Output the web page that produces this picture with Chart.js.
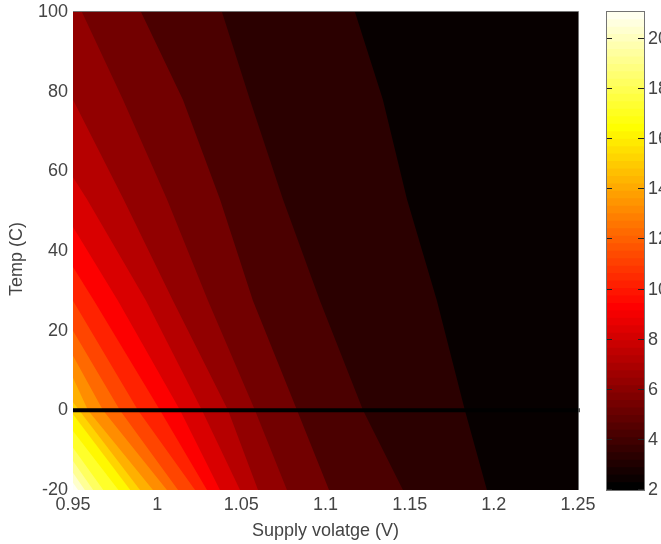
<!DOCTYPE html>
<html>
<head>
<meta charset="utf-8">
<title>Supply voltage vs temperature</title>
<script src="https://cdn.jsdelivr.net/npm/chart.js@4"></script>
<style>
  html, body { margin: 0; background: #fff; overflow: hidden; }
  #wrap { position: relative; width: 661px; height: 544px; }
  canvas { position: absolute; top: 0; }
</style>
</head>
<body>
<div id="wrap">
  <canvas id="plot" width="661" height="544" style="left:0"></canvas>
  <canvas id="bar" width="101" height="544" style="left:560px"></canvas>
</div>
<script>
const voltageTicks = [0.95, 1, 1.05, 1.1, 1.15, 1.2, 1.25];
const tempTicks = [-20, 0, 20, 40, 60, 80, 100];
const barTicks = [2, 4, 6, 8, 10, 12, 14, 16, 18, 20];

// value painted above each contour, lowest first (first one is the background)
const contourLevels = [2.2, 3.2, 4.1, 5.2, 6.1, 7.1, 8.1, 9.1, 10.1, 11.1, 12.1, 13.1, 14.1, 15.1, 16.1, 17.1, 18.1, 19.1, 20.1, 20.9];

// contours as [volts, temp], top to bottom
const contour1 = [[1.1175, 100], [1.1341, 78], [1.1484, 53], [1.1662, 27.5], [1.1828, 0], [1.1959, -20]];
const contour2 = [[1.0385, 100], [1.0551, 78], [1.0747, 53], [1.0967, 27.5], [1.1223, 0], [1.146, -20]];
const contour3 = [[0.9904, 100], [1.0153, 78], [1.0373, 53], [1.0569, 27.5], [1.0831, 0], [1.1021, -20]];
const contour4 = [[0.9553, 100], [0.9797, 78], [1.0058, 53], [1.0302, 27.5], [1.0581, 0], [1.0771, -20]];
const contour5 = [[0.95, 78], [0.98, 53], [1.0094, 27.5], [1.0421, 0], [1.0599, -20]];
const contour6 = [[0.95, 58.5], [0.9583, 53], [0.9934, 27.5], [1.0266, 0], [1.0492, -20]];
const contour7 = [[0.95, 46], [0.9767, 27.5], [1.0136, 0], [1.0373, -20]];
const contour8 = [[0.95, 36], [0.9625, 27.5], [1.0017, 0], [1.0296, -20]];
const contour9 = [[0.95, 27.5], [0.9886, 0], [1.0225, -20]];
const contour10 = [[0.95, 20], [0.9779, 0], [1.0124, -20]];
const contour11 = [[0.95, 13.7], [0.9678, 0], [1.0058, -20]];
const contour12 = [[0.95, 8.2], [0.9589, 0], [0.9975, -20]];
const contour13 = [[0.95, 2], [0.9898, -20]];
const contour14 = [[0.95, -1], [0.984, -20]];
const contour15 = [[0.95, -5.2], [0.977, -20]];
const contour16 = [[0.95, -9.4], [0.968, -20]];
const contour17 = [[0.95, -12.7], [0.962, -20]];
const contour18 = [[0.95, -15.7], [0.957, -20]];
const contour19 = [[0.95, -18.2], [0.953, -20]];
const contours = [contour1, contour2, contour3, contour4, contour5, contour6, contour7, contour8, contour9, contour10,
  contour11, contour12, contour13, contour14, contour15, contour16, contour17, contour18, contour19];

// the black line at 0 C
const lineVolts = [0.95, 1.251];
const lineTemps = [0, 0];

// upper edges of the 64 colorbar stripes
const barEdges = [2.3, 2.6, 2.89, 3.19, 3.49, 3.79, 4.09, 4.39, 4.68, 4.98, 5.28, 5.58, 5.88, 6.17, 6.47, 6.77,
  7.07, 7.37, 7.66, 7.96, 8.26, 8.56, 8.86, 9.16, 9.45, 9.75, 10.05, 10.35, 10.65, 10.94, 11.24, 11.54,
  11.84, 12.14, 12.43, 12.73, 13.03, 13.33, 13.63, 13.93, 14.22, 14.52, 14.82, 15.12, 15.42, 15.71, 16.01, 16.31,
  16.61, 16.91, 17.2, 17.5, 17.8, 18.1, 18.4, 18.7, 18.99, 19.29, 19.59, 19.89, 20.19, 20.48, 20.78, 21.08];

const FONT = { family: '"Liberation Sans", Arial, sans-serif', size: 18 };
const TEXT = '#444444';
const EDGE = 'rgba(90,90,90,0.85)';

// matlab's hot colormap over the colorbar range
function hot(value) {
  const t = (value - 2) / 19.08;
  const c = x => Math.round(255 * Math.min(1, Math.max(0, x)));
  return `rgb(${c(t / 0.375)},${c((t - 0.375) / 0.375)},${c((t - 0.75) / 0.25)})`;
}

// region above a contour: everything between it and the left side of the axes
function contourRegion(points) {
  const region = points.map(([x, y]) => ({ x, y }));
  region.push({ x: voltageTicks[0], y: tempTicks[0] });
  if (points[0][1] === tempTicks[tempTicks.length - 1]) {
    region.push({ x: voltageTicks[0], y: tempTicks[tempTicks.length - 1] });
  }
  return region;
}

function regionDataset(data, level, index) {
  return { data, backgroundColor: hot(level), borderWidth: 0, pointRadius: 0, showLine: true, fill: 'shape', order: -index };
}

// the tick labels must not push the axes around
function pinVertical(scale, width) {
  scale.width = width;
  scale.paddingTop = 0;
  scale.paddingBottom = 0;
}

const background = [
  { x: 0.95, y: -20 }, { x: 1.25, y: -20 }, { x: 1.25, y: 100 }, { x: 0.95, y: 100 }
];

const datasets = [regionDataset(background, contourLevels[0], 0)];
contours.forEach((points, i) => {
  datasets.push(regionDataset(contourRegion(points), contourLevels[i + 1], i + 1));
});
datasets.push({
  data: lineVolts.map((x, i) => ({ x, y: lineTemps[i] })),
  borderColor: '#000', borderWidth: 4, pointRadius: 0, showLine: true, fill: false, order: -100, clip: false
});

const plotDecor = {
  id: 'plotDecor',
  afterDraw(chart) {
    const { ctx, chartArea: a } = chart;
    ctx.save();
    ctx.strokeStyle = EDGE;
    ctx.lineWidth = 1;
    ctx.beginPath();
    ctx.moveTo(a.left, a.top - 0.5);
    ctx.lineTo(a.right + 0.5, a.top - 0.5);
    ctx.lineTo(a.right + 0.5, a.bottom);
    ctx.stroke();
    // y title sits a little below the middle of the axis
    ctx.translate(17, 259);
    ctx.rotate(-Math.PI / 2);
    ctx.fillStyle = TEXT;
    ctx.font = `${FONT.size}px ${FONT.family}`;
    ctx.textAlign = 'center';
    ctx.textBaseline = 'middle';
    ctx.fillText('Temp (C)', 0, 0);
    ctx.restore();
  }
};

new Chart(document.getElementById('plot'), {
  type: 'scatter',
  data: { datasets },
  plugins: [plotDecor],
  options: {
    responsive: false,
    animation: false,
    layout: { padding: { top: 12, right: 83, left: 0, bottom: 0 } },
    plugins: { legend: { display: false }, tooltip: { enabled: false } },
    scales: {
      x: {
        type: 'linear', min: 0.95, max: 1.25,
        afterBuildTicks: s => { s.ticks = voltageTicks.map(value => ({ value })); },
        afterFit: s => { s.height = 54; },
        grid: { display: false, drawTicks: false },
        border: { display: false },
        ticks: { color: TEXT, font: FONT, padding: 4, maxRotation: 0, autoSkip: false, callback: v => String(v) },
        title: { display: true, text: 'Supply volatge (V)', color: TEXT, font: FONT, padding: { top: 0, bottom: 2 } }
      },
      y: {
        type: 'linear', min: -20, max: 100,
        afterBuildTicks: s => { s.ticks = tempTicks.map(value => ({ value })); },
        afterFit: s => pinVertical(s, 73),
        grid: { display: false, drawTicks: false },
        border: { display: false },
        ticks: { color: TEXT, font: FONT, padding: 5, autoSkip: false, callback: v => String(v) }
      }
    }
  }
});

const barDatasets = barEdges.map((top, i) => ({
  data: [[barTicks[0], top]],
  backgroundColor: hot(i === 0 ? barTicks[0] : barEdges[i - 1]),
  barPercentage: 1,
  categoryPercentage: 1,
  borderWidth: 0,
  order: i
}));

const barDecor = {
  id: 'barDecor',
  afterDraw(chart) {
    const { ctx, chartArea: a, scales: { y } } = chart;
    ctx.save();
    ctx.lineWidth = 1;
    ctx.strokeStyle = '#222';
    barTicks.forEach(value => {
      const py = Math.round(y.getPixelForValue(value)) - 0.5;
      ctx.beginPath();
      ctx.moveTo(a.left, py);
      ctx.lineTo(a.left + 5, py);
      ctx.moveTo(a.right - 6, py);
      ctx.lineTo(a.right, py);
      ctx.stroke();
    });
    ctx.strokeStyle = EDGE;
    ctx.strokeRect(a.left - 0.5, a.top - 0.5, a.right - a.left + 1, a.bottom - a.top + 1);
    ctx.restore();
  }
};

new Chart(document.getElementById('bar'), {
  type: 'bar',
  data: { labels: [''], datasets: barDatasets },
  plugins: [barDecor],
  options: {
    responsive: false,
    animation: false,
    layout: { padding: { top: 12, left: 47, right: 0, bottom: 54 } },
    plugins: { legend: { display: false }, tooltip: { enabled: false } },
    scales: {
      x: { stacked: true, display: false },
      y: {
        position: 'right', min: 2, max: 21.08,
        afterBuildTicks: s => { s.ticks = barTicks.map(value => ({ value })); },
        afterFit: s => pinVertical(s, 17),
        grid: { display: false, drawTicks: false },
        border: { display: false },
        ticks: { color: TEXT, font: FONT, padding: 4, autoSkip: false, callback: v => String(v) }
      }
    }
  }
});
</script>
</body>
</html>
